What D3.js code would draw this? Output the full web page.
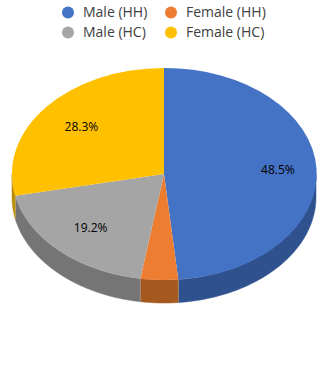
<!DOCTYPE html>
<meta charset="utf-8">
<title>Pie</title>
<style>
  html, body { margin: 0; padding: 0; background: #fff; }
  svg { display: block; }
  text { font-family: "Open Sans", sans-serif; }
</style>
<body>
<script src="https://d3js.org/d3.v7.min.js"></script>
<script>

var categories = ['Male (HH)', 'Female (HH)', 'Male (HC)', 'Female (HC)'];
var shares = [48.5, 4.0, 19.2, 28.3];
var topColors = ['#4472c4', '#ed7d31', '#a5a5a5', '#ffc000'];
var sideColors = ['#2f528f', '#a5591f', '#757575', '#b98b00'];

var width = 329, height = 371;
var cx = 164, cy = 174, rx = 152, ry = 106, depth = 23;

var svg = d3.select('body').append('svg')
    .attr('width', width)
    .attr('height', height);

var pie = d3.pie().sort(null).value(function(d){ return d; });
var slices = pie(shares);

// pie is tilted, so angle maps onto an ellipse
function px(a, f){ return cx + rx * f * Math.sin(a); }
function py(a, f){ return cy - ry * f * Math.cos(a); }

// side wall, only the front half of the rim shows
var lo = Math.PI / 2, hi = 3 * Math.PI / 2;
function wall(d){
  var a0 = Math.max(d.startAngle, lo), a1 = Math.min(d.endAngle, hi);
  if (a1 <= a0) return null;
  var angles = d3.range(0, 61).map(function(i){ return a0 + (a1 - a0) * i / 60; });
  var upper = angles.map(function(a){ return [px(a, 1), py(a, 1)]; });
  var lower = angles.slice().reverse().map(function(a){ return [px(a, 1), py(a, 1) + depth]; });
  return d3.line()(upper.concat(lower)) + 'Z';
}

svg.append('g').selectAll('path')
    .data(slices)
    .enter()
    .append('path')
    .attr('d', wall)
    .style('fill', function(d,i){ return sideColors[i]; })
    .style('stroke', function(d,i){ return sideColors[i]; })
    .style('stroke-width', 0.5);

// pale seam where two walls meet
svg.append('g').selectAll('line')
    .data(slices.filter(function(d){ return d.endAngle > lo && d.endAngle < hi; }))
    .enter()
    .append('line')
    .attr('x1', function(d){ return px(d.endAngle, 1); })
    .attr('x2', function(d){ return px(d.endAngle, 1); })
    .attr('y1', function(d){ return py(d.endAngle, 1); })
    .attr('y2', function(d){ return py(d.endAngle, 1) + depth; })
    .style('stroke', '#fff')
    .style('stroke-opacity', 0.3)
    .style('stroke-width', 0.75);

// top face is a unit-radius arc stretched to the ellipse
var arc = d3.arc().innerRadius(0).outerRadius(1);
svg.append('g')
    .attr('transform', 'translate(' + cx + ',' + cy + ') scale(' + rx + ',' + ry + ')')
    .selectAll('path')
    .data(slices)
    .enter()
    .append('path')
    .attr('d', arc)
    .style('fill', function(d,i){ return topColors[i]; });

// percent labels, the small slice has none
svg.append('g').selectAll('text')
    .data(slices.filter(function(d){ return d.value > 5; }))
    .enter()
    .append('text')
    .attr('x', function(d){ return px((d.startAngle + d.endAngle) / 2, d.index == 0 ? 0.75 : 0.7); })
    .attr('y', function(d){ return py((d.startAngle + d.endAngle) / 2, d.index == 0 ? 0.75 : 0.7); })
    .attr('dy', '0.35em')
    .attr('text-anchor', 'middle')
    .style('font-size', '12px')
    .style('fill', '#000')
    .text(function(d){ return d.value.toFixed(1) + '%'; });

// legend, two rows and two columns
var legendX = d3.scalePoint().domain([0, 1]).range([68, 171]);
var legendY = d3.scalePoint().domain([0, 1]).range([12.5, 32.5]);
var legend = svg.append('g').selectAll('g')
    .data(categories)
    .enter()
    .append('g')
    .attr('transform', function(d,i){
      return 'translate(' + legendX(i % 2) + ',' + legendY(Math.floor(i / 2)) + ')';
    });
legend.append('circle')
    .attr('r', 6)
    .style('fill', function(d,i){ return topColors[i]; });
legend.append('text')
    .attr('x', 15)
    .attr('dy', '0.35em')
    .style('font-size', '14px')
    .style('fill', '#404040')
    .text(function(d){ return d; });

</script>
</body>
